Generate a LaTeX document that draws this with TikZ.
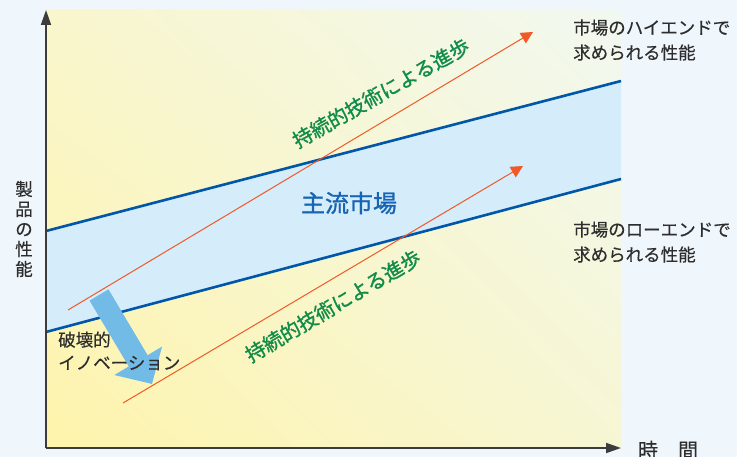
\documentclass[tikz,border=0pt]{standalone}
\usepackage{fontspec}
\setmainfont{Noto Sans CJK JP}
\newfontfamily\medfont[FakeBold=1.2]{Noto Sans CJK JP}
\newfontfamily\lightbold[FakeBold=0.4]{Noto Sans CJK JP}
\usetikzlibrary{arrows.meta,shadings}
\definecolor{bgc}{RGB}{239,247,253}
\definecolor{ylow}{RGB}{254,244,172}
\definecolor{yhigh}{RGB}{241,248,240}
\definecolor{ymidA}{RGB}{249,246,205}
\definecolor{ymidB}{RGB}{247,246,212}
\definecolor{bandfill}{RGB}{213,236,250}
\definecolor{bandline}{RGB}{0,86,168}
\definecolor{orangeln}{RGB}{240,90,40}
\definecolor{greentx}{RGB}{16,140,72}
\definecolor{bluetx}{RGB}{22,100,180}
\definecolor{arrowblue}{RGB}{114,187,230}
\definecolor{txt}{RGB}{45,45,45}
\definecolor{axisc}{RGB}{60,60,60}
\tikzset{
  axisline/.style={draw=axisc, line width=1.8pt, -{Triangle[length=15pt,width=10pt]}},
  bandedge/.style={draw=bandline, line width=2.6pt},
  progress/.style={draw=orangeln, line width=1pt, -{Triangle[length=12pt,width=12pt]}},
  greenlabel/.style={text=greentx, font=\medfont\fontsize{20}{22}\selectfont, inner sep=0pt},
  sidelabel/.style={text=txt, font=\lightbold\fontsize{17.5}{25}\selectfont, align=left, anchor=west, inner sep=0pt},
}
\begin{document}
\begin{tikzpicture}[x=1pt,y=-1pt]
\fill[bgc] (0,0) rectangle (737,457);
\useasboundingbox (0,0) rectangle (737,457);
% plot area
\shade[upper left=ymidA, upper right=yhigh, lower left=ylow, lower right=ymidB] (46,10) rectangle (621,448);
% band
\fill[bandfill] (46,231) -- (621,81) -- (621,179) -- (46,332) -- cycle;
\coordinate (hiL) at (46,231);
\coordinate (hiR) at (621,81);
\coordinate (loL) at (46,332);
\coordinate (loR) at (621,179);
\draw[bandedge] (hiL) -- (hiR);
\draw[bandedge] (loL) -- (loR);
% orange progress arrows
\coordinate (p1s) at (68,310);
\coordinate (p1e) at (533,32);
\coordinate (p2s) at (123,403);
\coordinate (p2e) at (523,166);
\draw[progress] (p1s) -- (p1e);
\draw[progress] (p2s) -- (p2e);
% disruptive arrow
\coordinate (da) at (99,295);
\coordinate (db) at (152,384);
\draw[draw=arrowblue, line width=22pt, -{Triangle[length=27pt,width=54pt]}] (da) -- (db);
% axes
\coordinate (origin) at (46,448);
\coordinate (ytop) at (46,10);
\coordinate (xend) at (621,448);
\draw[axisline] (origin) -- (ytop);
\draw[axisline] (origin) -- (xend);
% labels
\node[greenlabel, rotate=29.5] (g1) at (381,93) {持続的技術による進歩};
\node[greenlabel, rotate=30.5] (g2) at (333,306) {持続的技術による進歩};
\node[text=bluetx, font=\medfont\fontsize{24}{26}\selectfont, inner sep=0pt] (main) at (349,203) {主流市場};
\node[text=txt, font=\lightbold\fontsize{17.5}{23}\selectfont, align=left, anchor=west, inner sep=0pt] (disr) at (58,351) {破壊的\\イノベーション};
\node[sidelabel] (high) at (573,40) {市場のハイエンドで\\求められる性能};
\node[sidelabel] (low) at (573,242) {市場のローエンドで\\求められる性能};
\node[text=txt, font=\lightbold\fontsize{17.5}{20}\selectfont, align=center, inner sep=0pt] (ylab) at (24,229) {製\\品\\の\\性\\能};
\node[text=txt, font=\lightbold\fontsize{20}{22}\selectfont, inner sep=0pt] (xlab) at (668,450) {時　間};
\end{tikzpicture}
\end{document}
